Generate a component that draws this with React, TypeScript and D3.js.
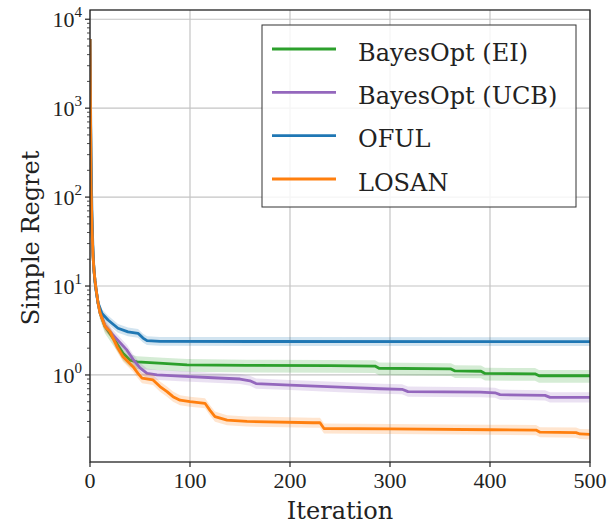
import React, { useRef, useEffect } from 'react'
import * as d3 from 'd3'

// axis ticks
const iterTicks = [0, 100, 200, 300, 400, 500]
const regretDecades = [0, 1, 2, 3, 4]

const seriesNames = ['BayesOpt (EI)', 'BayesOpt (UCB)', 'OFUL', 'LOSAN']
const seriesColors = ['#2ca02c', '#9467bd', '#1f77b4', '#ff7f0e']

// mean simple regret (iteration, value)
const eiIter = [0, 1, 2, 3, 4, 5, 6, 8, 10, 15, 22, 27, 33, 40, 47, 73, 97, 157, 240, 285, 289, 361, 365, 391, 395, 445, 449, 500]
const eiRegret = [6000, 150, 45, 22, 15, 11.5, 9.3, 6.5, 5.0, 3.5, 2.7, 2.25, 1.75, 1.47, 1.4, 1.35, 1.3, 1.28, 1.27, 1.26, 1.19, 1.17, 1.11, 1.1, 1.04, 1.03, 0.98, 0.98]

const ucbIter = [0, 1, 2, 3, 4, 5, 6, 8, 10, 15, 22, 28, 37, 43, 50, 57, 67, 90, 123, 150, 160, 166, 200, 250, 290, 312, 318, 390, 405, 410, 455, 460, 500]
const ucbRegret = [6000, 150, 45, 22, 15, 11.5, 9.3, 6.5, 5.0, 3.6, 2.9, 2.45, 1.9, 1.5, 1.2, 1.04, 1.0, 0.97, 0.93, 0.9, 0.86, 0.8, 0.77, 0.73, 0.7, 0.69, 0.65, 0.64, 0.63, 0.6, 0.59, 0.56, 0.56]

const ofulIter = [0, 1, 2, 3, 4, 5, 6, 8, 12, 18, 28, 38, 48, 53, 57, 70, 500]
const ofulRegret = [6000, 300, 60, 25, 15, 11, 9, 6.5, 4.9, 4.15, 3.35, 3.05, 2.94, 2.6, 2.43, 2.38, 2.37]

const losanIter = [0, 1, 2, 3, 4, 5, 6, 8, 10, 15, 20, 27, 33, 43, 48, 52, 63, 70, 77, 83, 90, 100, 115, 120, 125, 137, 157, 223, 230, 234, 300, 400, 446, 450, 486, 490, 500]
const losanRegret = [6000, 150, 45, 22, 15, 11.5, 9.3, 6.5, 5.0, 3.5, 3.07, 2.08, 1.6, 1.24, 1.04, 0.92, 0.88, 0.74, 0.65, 0.57, 0.52, 0.5, 0.48, 0.4, 0.34, 0.31, 0.3, 0.29, 0.29, 0.25, 0.247, 0.242, 0.24, 0.227, 0.225, 0.217, 0.215]

// confidence band, as a ratio above / below the mean
const bandUp = [1.16, 1.14, 1.12, 1.14]
const bandDown = [1.2, 1.14, 1.12, 1.14]

const seriesIters = [eiIter, ucbIter, ofulIter, losanIter]
const seriesValues = [eiRegret, ucbRegret, ofulRegret, losanRegret]

const numFont = '"Liberation Serif", serif'
const textFont = '"DejaVu Serif", serif'

function RegretChart() {
    const svgRef = useRef(null)

    useEffect(() => {
        const svg = d3.select(svgRef.current)
        svg.selectAll('*').remove()

        const left = 90, right = 590, top = 10, bottom = 462

        const xScale = d3.scaleLinear().domain([0, 500]).range([left, right])
        const yScale = d3.scaleLog().domain([0.105, 12700]).range([bottom, top])

        svg.append('clipPath').attr('id', 'plot-clip')
            .append('rect')
            .attr('x', left).attr('y', top)
            .attr('width', right - left).attr('height', bottom - top)

        // grid
        const grid = svg.append('g')
        grid.selectAll('.vgrid')
            .data(iterTicks)
            .join('line')
            .attr('x1', d => xScale(d)).attr('x2', d => xScale(d))
            .attr('y1', top).attr('y2', bottom)
            .attr('stroke', '#c4c4c4').attr('stroke-width', 1.2)
        grid.selectAll('.hgrid')
            .data(regretDecades)
            .join('line')
            .attr('x1', left).attr('x2', right)
            .attr('y1', d => yScale(10 ** d)).attr('y2', d => yScale(10 ** d))
            .attr('stroke', '#c4c4c4').attr('stroke-width', 1.2)

        // bands and lines
        const plot = svg.append('g').attr('clip-path', 'url(#plot-clip)')
        seriesNames.forEach((name, i) => {
            const pts = seriesIters[i].map((t, j) => [t, seriesValues[i][j]])
            const band = d3.area()
                .x(d => xScale(d[0]))
                .y0(d => yScale(d[1] / bandDown[i]))
                .y1(d => yScale(d[1] * bandUp[i]))
            plot.append('path')
                .attr('d', band(pts))
                .attr('fill', seriesColors[i])
                .attr('fill-opacity', 0.2)
            const meanLine = d3.line()
                .x(d => xScale(d[0]))
                .y(d => yScale(d[1]))
            plot.append('path')
                .attr('d', meanLine(pts))
                .attr('fill', 'none')
                .attr('stroke', seriesColors[i])
                .attr('stroke-width', 2.8)
                .attr('stroke-linejoin', 'round')
        })

        // frame
        svg.append('rect')
            .attr('x', left).attr('y', top)
            .attr('width', right - left).attr('height', bottom - top)
            .attr('fill', 'none').attr('stroke', '#222').attr('stroke-width', 1.3)

        // x axis
        const xAxis = svg.append('g')
        xAxis.selectAll('line')
            .data(iterTicks)
            .join('line')
            .attr('x1', d => xScale(d)).attr('x2', d => xScale(d))
            .attr('y1', bottom).attr('y2', bottom + 5)
            .attr('stroke', '#222').attr('stroke-width', 1.2)
        xAxis.selectAll('text')
            .data(iterTicks)
            .join('text')
            .attr('x', d => xScale(d)).attr('y', bottom + 26)
            .attr('text-anchor', 'middle')
            .attr('font-family', numFont).attr('font-size', 22)
            .attr('fill', '#222')
            .text(d => d)

        // y axis: major + minor ticks
        const minor = []
        for (let e = -1; e <= 4; e++) {
            for (let k = 2; k <= 9; k++) {
                const v = k * 10 ** e
                if (v >= 0.105 && v <= 12700) minor.push(v)
            }
        }
        const yAxis = svg.append('g')
        yAxis.selectAll('.minor')
            .data(minor)
            .join('line')
            .attr('x1', left - 3).attr('x2', left)
            .attr('y1', d => yScale(d)).attr('y2', d => yScale(d))
            .attr('stroke', '#333').attr('stroke-width', 0.9)
        yAxis.selectAll('.major')
            .data(regretDecades)
            .join('line')
            .attr('x1', left - 5).attr('x2', left)
            .attr('y1', d => yScale(10 ** d)).attr('y2', d => yScale(10 ** d))
            .attr('stroke', '#222').attr('stroke-width', 1.2)
        const yLabels = yAxis.selectAll('.ylab')
            .data(regretDecades)
            .join('text')
            .attr('x', left - 8).attr('y', d => yScale(10 ** d) + 8)
            .attr('text-anchor', 'end')
            .attr('font-family', numFont).attr('font-size', 22)
            .attr('fill', '#222')
        yLabels.append('tspan').text('10')
        yLabels.append('tspan')
            .attr('dy', -10).attr('font-size', 15)
            .text(d => d)

        // axis titles
        svg.append('text')
            .attr('x', (left + right) / 2).attr('y', 519)
            .attr('text-anchor', 'middle')
            .attr('font-family', textFont).attr('font-size', 24)
            .attr('fill', '#222')
            .text('Iteration')
        svg.append('text')
            .attr('transform', 'translate(39,238) rotate(-90)')
            .attr('text-anchor', 'middle')
            .attr('font-family', textFont).attr('font-size', 24)
            .attr('fill', '#222')
            .text('Simple Regret')

        // legend
        const legend = svg.append('g')
        legend.append('rect')
            .attr('x', 262).attr('y', 25)
            .attr('width', 314).attr('height', 182)
            .attr('fill', '#fff').attr('fill-opacity', 0.82)
            .attr('stroke', '#333').attr('stroke-width', 1)
        const rowY = d3.scalePoint().domain(seriesNames).range([49, 179])
        seriesNames.forEach((name, i) => {
            legend.append('line')
                .attr('x1', 272).attr('x2', 336)
                .attr('y1', rowY(name)).attr('y2', rowY(name))
                .attr('stroke', seriesColors[i]).attr('stroke-width', 2.8)
            legend.append('text')
                .attr('x', 358).attr('y', rowY(name) + 11.5)
                .attr('font-family', textFont).attr('font-size', 24)
                .attr('fill', '#222')
                .text(name)
        })
    }, [])

    return (
        <svg ref={svgRef} width={611} height={525}
            style={{ position: 'absolute', left: 0, top: 0, background: '#fff' }} />
    )
}

export default function App() {
    return <RegretChart />
}
